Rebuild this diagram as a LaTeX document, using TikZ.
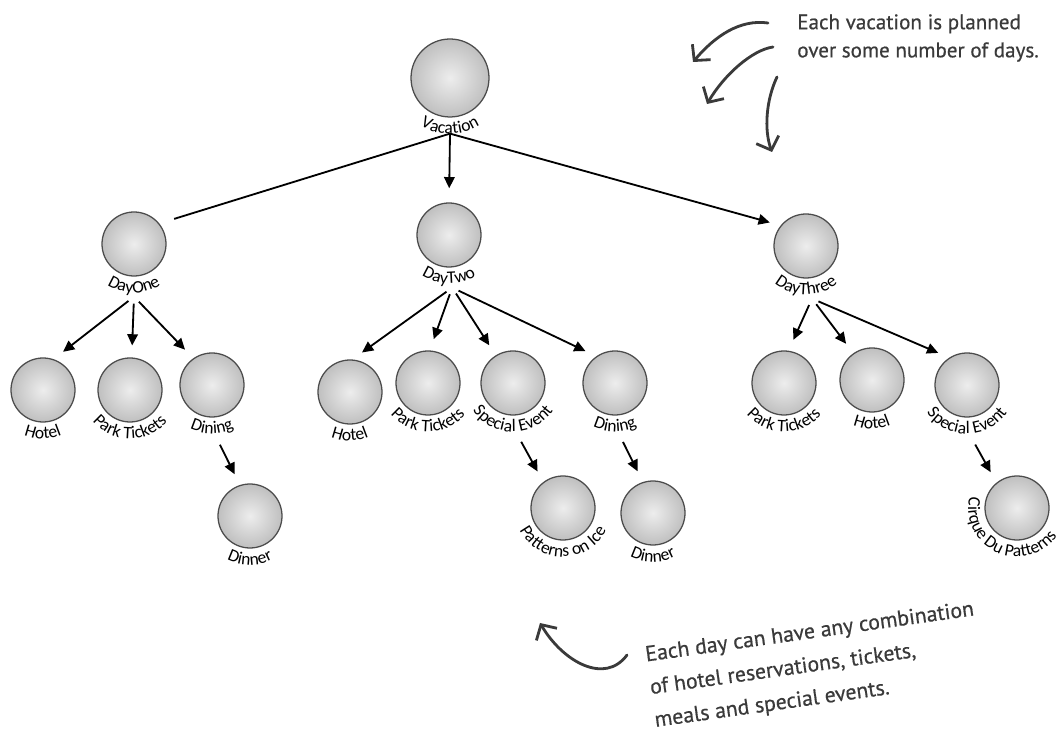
\documentclass[tikz,border=0pt]{standalone}
\usepackage{fontspec}
\usetikzlibrary{arrows.meta,positioning,decorations.text}
\newfontfamily\lblfam{Carlito}
\newfontfamily\notefam[FakeBold=0.6]{PT Sans}
\newcommand\lblfont{\lblfam\fontsize{12.5}{14}\selectfont}
\definecolor{notegray}{HTML}{3A3A3A}

\begin{document}
\begin{tikzpicture}[
    ball/.style={circle, minimum size=1.6cm, inner sep=0pt, draw=black!70, line width=0.9pt,
                 inner color=gray!14, outer color=gray!50},
    link/.style={line width=1.3pt, shorten <=5pt, shorten >=8.5pt},
    arr/.style={link, -{Triangle[length=8pt,width=7.5pt]}},
    curved/.style={decorate, decoration={text along path, text align=center, text={|\lblfont|#1}}},
    note/.style={font=\notefam\fontsize{15}{20}\selectfont, text=notegray, align=left, inner sep=0pt},
    callout/.style={draw=notegray, line width=2pt, line cap=round, -{Straight Barb[length=8pt,width=17pt]}}
]
\useasboundingbox (0,0) rectangle (26.55,18.3);

% the trip and its days
\node[ball, minimum size=1.95cm] (vac) at (11.25,16.35) {};
\node[ball] (d1) at (3.35,12.2) {};
\node[ball] (d2) at (11.225,12.425) {};
\node[ball] (d3) at (20.15,12.15) {};

% day one
\node[ball] (h1) at (1.075,8.55) {};
\node[ball] (p1) at (3.25,8.55) {};
\node[ball] (di1) at (5.3,8.675) {};
\node[ball] (dn1) at (6.25,5.4) {};

% day two
\node[ball] (h2) at (8.75,8.5) {};
\node[ball] (p2) at (10.7,8.725) {};
\node[ball] (s2) at (12.825,8.725) {};
\node[ball] (di2) at (15.375,8.725) {};
\node[ball] (pi2) at (14.075,5.6) {};
\node[ball] (dn2) at (16.325,5.475) {};

% day three
\node[ball] (p3) at (19.6,8.725) {};
\node[ball] (h3) at (21.8,8.8) {};
\node[ball] (s3) at (24.175,8.675) {};
\node[ball] (cq3) at (25.425,5.6) {};

% labels bent round the bottom of each ball
\path[curved={Vacation}] (vac.center) ++(190:1.4) arc[start angle=190, end angle=350, radius=1.4];
\path[curved={DayOne}] (d1.center) ++(180:1.22) arc[start angle=180, end angle=360, radius=1.22];
\path[curved={DayTwo}] (d2.center) ++(180:1.22) arc[start angle=180, end angle=360, radius=1.22];
\path[curved={DayThree}] (d3.center) ++(180:1.22) arc[start angle=180, end angle=360, radius=1.22];
\path[curved={Hotel}] (h1.center) ++(180:1.22) arc[start angle=180, end angle=360, radius=1.22];
\path[curved={Park Tickets}] (p1.center) ++(180:1.22) arc[start angle=180, end angle=360, radius=1.22];
\path[curved={Dining}] (di1.center) ++(180:1.22) arc[start angle=180, end angle=360, radius=1.22];
\path[curved={Dinner}] (dn1.center) ++(180:1.22) arc[start angle=180, end angle=360, radius=1.22];
\path[curved={Hotel}] (h2.center) ++(180:1.22) arc[start angle=180, end angle=360, radius=1.22];
\path[curved={Park Tickets}] (p2.center) ++(180:1.22) arc[start angle=180, end angle=360, radius=1.22];
\path[curved={Special Event}] (s2.center) ++(180:1.22) arc[start angle=180, end angle=360, radius=1.22];
\path[curved={Dining}] (di2.center) ++(180:1.22) arc[start angle=180, end angle=360, radius=1.22];
\path[curved={Patterns on Ice}] (pi2.center) ++(180:1.22) arc[start angle=180, end angle=360, radius=1.22];
\path[curved={Dinner}] (dn2.center) ++(180:1.22) arc[start angle=180, end angle=360, radius=1.22];
\path[curved={Park Tickets}] (p3.center) ++(180:1.22) arc[start angle=180, end angle=360, radius=1.22];
\path[curved={Hotel}] (h3.center) ++(180:1.22) arc[start angle=180, end angle=360, radius=1.22];
\path[curved={Special Event}] (s3.center) ++(180:1.22) arc[start angle=180, end angle=360, radius=1.22];
\path[curved={Cirque Du Patterns}] (cq3.center) ++(156:1.22) arc[start angle=156, end angle=336, radius=1.22];

% where the links leave each parent
\coordinate (vo) at ([yshift=-0.4cm]vac.south);
\coordinate (d1o) at ([yshift=-0.5cm]d1.south);
\coordinate (d2o) at ([xshift=0.08cm,yshift=-0.5cm]d2.south);
\coordinate (d3o) at ([xshift=0.15cm,yshift=-0.5cm]d3.south);
\coordinate (di1o) at ([xshift=0.12cm,yshift=-0.52cm]di1.south);
\coordinate (s2o) at ([xshift=0.12cm,yshift=-0.5cm]s2.south);
\coordinate (di2o) at ([xshift=0.12cm,yshift=-0.5cm]di2.south);
\coordinate (s3o) at ([xshift=0.12cm,yshift=-0.52cm]s3.south);

\draw[link, shorten <=0pt, shorten >=11pt] (vo) -- (d1.39);
\draw[arr, shorten <=0pt, shorten >=10pt] (vo) -- (d2.north);
\draw[arr, shorten <=0pt, shorten >=8pt] (vo) -- (d3.141);

\draw[arr] (d1o) -- (h1.71);
\draw[arr] (d1o) -- (p1.87);
\draw[arr] (d1o) -- (di1.125);
\draw[arr] (di1o) -- (dn1.108);

\draw[arr] (d2o) -- (h2.86);
\draw[arr] (d2o) -- (p2.87);
\draw[arr] (d2o) -- (s2.122);
\draw[arr] (d2o) -- (di2.125);
\draw[arr] (s2o) -- (pi2.127);
\draw[arr] (di2o) -- (dn2.108);

\draw[arr] (d3o) -- (p3.82);
\draw[arr] (d3o) -- (h3.125);
\draw[arr] (d3o) -- (s3.123);
\draw[arr] (s3o) -- (cq3.129);

% notes
\node[note, anchor=north west] (topnote) at (19.925,17.95)
    {Each vacation is planned\\over some number of days.};
\node[note, font=\notefam\fontsize{15.5}{23.5}\selectfont, rotate=8, anchor=north west] (botnote) at (16.1,2.15)
    {Each day can have any combination\\of hotel reservations, tickets,\\meals and special events.};

\draw[callout] (19.2,17.725) .. controls (18.5,17.825) and (17.875,17.4) .. (17.325,16.75);
\draw[callout] (19.325,17.125) .. controls (18.8,17.05) and (18.1,16.425) .. (17.675,15.7);
\draw[callout] (19.425,16.375) .. controls (19.15,15.8) and (19.1,15.05) .. (19.3,14.5);
\draw[callout] (15.675,1.925) .. controls (15.125,1.175) and (14.075,1.75) .. (13.5,2.725);
\end{tikzpicture}
\end{document}
